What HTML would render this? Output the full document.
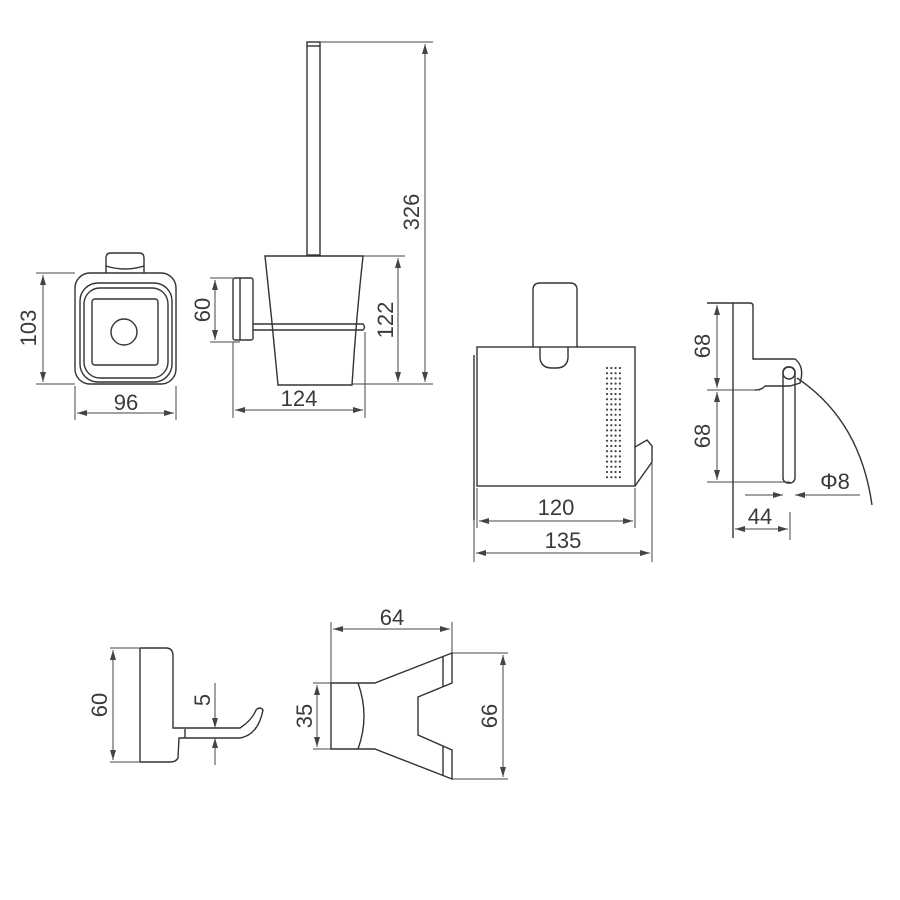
<!DOCTYPE html>
<html><head><meta charset="utf-8"><style>
html,body{margin:0;padding:0;background:#fff}
svg{display:block}
text{font-family:"Liberation Sans",sans-serif;font-size:22px;fill:#3a3a3a}
</style></head><body>
<svg width="900" height="900" viewBox="0 0 900 900" xmlns="http://www.w3.org/2000/svg">
<defs>
<marker id="a" viewBox="0 0 10 6" refX="10" refY="3" markerWidth="10" markerHeight="6" orient="auto-start-reverse" markerUnits="userSpaceOnUse"><path d="M0,0 L10,3 L0,6 z" fill="#444"/></marker>
</defs>
<g fill="none" stroke="#333" stroke-width="1.4">
<path d="M106,273 L106,258 Q106,253 111,253 L139,253 Q144,253 144,258 L144,273"/>
<path d="M106,266 Q125,272 144,266"/>
<rect x="75" y="273" width="101" height="111" rx="15"/>
<rect x="80" y="283" width="92" height="99" rx="18"/>
<rect x="84" y="288" width="84" height="90" rx="16"/>
<rect x="92" y="299" width="66" height="66" rx="3"/>
<circle cx="124" cy="332" r="13"/>
</g>
<g fill="none" stroke="#444" stroke-width="1">
<line x1="36" y1="273" x2="75" y2="273"/><line x1="36" y1="384" x2="75" y2="384"/>
<line x1="43" y1="275" x2="43" y2="382" marker-start="url(#a)" marker-end="url(#a)"/>
<line x1="75" y1="386" x2="75" y2="420"/><line x1="176" y1="386" x2="176" y2="420"/>
<line x1="77" y1="413" x2="174" y2="413" marker-start="url(#a)" marker-end="url(#a)"/>
</g>
<text x="40" y="328" text-anchor="middle" transform="rotate(-90 40 328)" dy="-4">103</text>
<text x="126" y="410" text-anchor="middle">96</text>

<g fill="none" stroke="#333" stroke-width="1.4">
<rect x="307" y="42" width="13" height="213"/>
<line x1="307" y1="46" x2="320" y2="46"/>
<path d="M265,256 L363,256 Q356,320 352,385 L278,385 Q272,320 265,256 z"/>
<path d="M253,324 L363,324 Q366,327 363,330 L253,330"/>
<rect x="233" y="278" width="20" height="62" rx="2"/>
<line x1="240" y1="278" x2="240" y2="340"/>
</g>
<g fill="none" stroke="#444" stroke-width="1">
<line x1="320" y1="42" x2="433" y2="42"/>
<line x1="425" y1="44" x2="425" y2="382" marker-start="url(#a)" marker-end="url(#a)"/>
<line x1="363" y1="256" x2="405" y2="256"/>
<line x1="352" y1="384" x2="433" y2="384"/>
<line x1="398" y1="258" x2="398" y2="382" marker-start="url(#a)" marker-end="url(#a)"/>
<line x1="210" y1="278" x2="233" y2="278"/><line x1="210" y1="342" x2="240" y2="342"/>
<line x1="215" y1="280" x2="215" y2="340" marker-start="url(#a)" marker-end="url(#a)"/>
<line x1="233" y1="342" x2="233" y2="418"/><line x1="365" y1="332" x2="365" y2="418"/>
<line x1="235" y1="410" x2="363" y2="410" marker-start="url(#a)" marker-end="url(#a)"/>
</g>
<text x="412" y="212" text-anchor="middle" transform="rotate(-90 412 212)" dy="7">326</text>
<text x="386" y="320" text-anchor="middle" transform="rotate(-90 386 320)" dy="7">122</text>
<text x="203" y="310" text-anchor="middle" transform="rotate(-90 203 310)" dy="7">60</text>
<text x="299" y="406" text-anchor="middle">124</text>

<g fill="none" stroke="#333" stroke-width="1.4">
<path d="M533,347 L533,290 Q533,283 540,283 L570,283 Q577,283 577,290 L577,347"/>
<rect x="477" y="347" width="158" height="139"/>
<path d="M540,347 L540,358 Q541,368 552,368 L556,368 Q567,368 568,358 L568,347"/>
<line x1="474" y1="355" x2="474" y2="520"/>
<path d="M635,447 L647,440 L652,446 L652,462 L635,486"/>
</g>
<g fill="#444">
<g id="dotcol">
<circle cx="607" cy="368" r="1.1"/><circle cx="607" cy="373.2" r="1.1"/><circle cx="607" cy="378.4" r="1.1"/><circle cx="607" cy="383.6" r="1.1"/><circle cx="607" cy="388.8" r="1.1"/><circle cx="607" cy="394" r="1.1"/><circle cx="607" cy="399.2" r="1.1"/><circle cx="607" cy="404.4" r="1.1"/><circle cx="607" cy="409.6" r="1.1"/><circle cx="607" cy="414.8" r="1.1"/><circle cx="607" cy="420" r="1.1"/><circle cx="607" cy="425.2" r="1.1"/><circle cx="607" cy="430.4" r="1.1"/><circle cx="607" cy="435.6" r="1.1"/><circle cx="607" cy="440.8" r="1.1"/><circle cx="607" cy="446" r="1.1"/><circle cx="607" cy="451.2" r="1.1"/><circle cx="607" cy="456.4" r="1.1"/><circle cx="607" cy="461.6" r="1.1"/><circle cx="607" cy="466.8" r="1.1"/><circle cx="607" cy="472" r="1.1"/><circle cx="607" cy="477.2" r="1.1"/>
</g>
<use href="#dotcol" x="4.3"/><use href="#dotcol" x="8.6"/><use href="#dotcol" x="12.9"/>
</g>
<g fill="none" stroke="#444" stroke-width="1">
<line x1="477" y1="488" x2="477" y2="528"/><line x1="635" y1="488" x2="635" y2="528"/>
<line x1="474" y1="520" x2="474" y2="562"/><line x1="652" y1="462" x2="652" y2="562"/>
<line x1="479" y1="521" x2="633" y2="521" marker-start="url(#a)" marker-end="url(#a)"/>
<line x1="476" y1="553" x2="650" y2="553" marker-start="url(#a)" marker-end="url(#a)"/>
</g>
<text x="556" y="515" text-anchor="middle">120</text>
<text x="563" y="548" text-anchor="middle">135</text>

<g fill="none" stroke="#333" stroke-width="1.4">
<line x1="733" y1="303" x2="733" y2="538"/>
<path d="M707,303 L750,303 Q753,303 753,306 L753,359 L795,359 Q805,367 800,383 L790,386 L765,386 Q762,390 755,390"/>
<rect x="783" y="367" width="12" height="116" rx="5"/>
<circle cx="789" cy="373" r="6"/>
<path d="M797,378 Q860,420 872,505"/>
</g>
<g fill="none" stroke="#444" stroke-width="1">
<line x1="707" y1="390" x2="760" y2="390"/>
<line x1="707" y1="482" x2="790" y2="482"/>
<line x1="717" y1="305" x2="717" y2="388" marker-start="url(#a)" marker-end="url(#a)"/>
<line x1="717" y1="392" x2="717" y2="480" marker-start="url(#a)" marker-end="url(#a)"/>
<line x1="745" y1="495" x2="783" y2="495" marker-end="url(#a)"/>
<line x1="860" y1="495" x2="795" y2="495" marker-end="url(#a)"/>
<line x1="790" y1="512" x2="790" y2="540"/>
<line x1="735" y1="529" x2="788" y2="529" marker-start="url(#a)" marker-end="url(#a)"/>
</g>
<text x="703" y="346" text-anchor="middle" transform="rotate(-90 703 346)" dy="7">68</text>
<text x="703" y="436" text-anchor="middle" transform="rotate(-90 703 436)" dy="7">68</text>
<text x="835" y="489" text-anchor="middle">Φ8</text>
<text x="760" y="524" text-anchor="middle">44</text>

<g fill="none" stroke="#333" stroke-width="1.4">
<path d="M140,648 L166,648 Q173,648 173,656 L173,728 L240,728 Q252,720 256,710 Q260,706 263,710 Q258,735 240,738 L185,738"/>
<path d="M185,738 L179,738 L178,758 Q176,762 170,762 L140,762"/>
<line x1="140" y1="648" x2="140" y2="762"/>
<line x1="185" y1="729" x2="185" y2="738"/>
</g>
<g fill="none" stroke="#444" stroke-width="1">
<line x1="110" y1="648" x2="140" y2="648"/><line x1="110" y1="762" x2="140" y2="762"/>
<line x1="113" y1="650" x2="113" y2="760" marker-start="url(#a)" marker-end="url(#a)"/>
<line x1="215" y1="683" x2="215" y2="728" marker-end="url(#a)"/>
<line x1="215" y1="765" x2="215" y2="738" marker-end="url(#a)"/>
</g>
<text x="100" y="705" text-anchor="middle" transform="rotate(-90 100 705)" dy="7">60</text>
<text x="203" y="700" text-anchor="middle" transform="rotate(-90 203 700)" dy="7">5</text>

<g fill="none" stroke="#333" stroke-width="1.4">
<path d="M331,683 L375,683 L452,653 L452,683 L418,697 L418,735 L452,750 L452,779 L375,749 L331,749 z"/>
<line x1="443" y1="656" x2="443" y2="687"/><line x1="443" y1="746" x2="443" y2="776"/>
<path d="M358,683 Q370,716 358,749"/>
</g>
<g fill="none" stroke="#444" stroke-width="1">
<line x1="331" y1="622" x2="331" y2="683"/><line x1="452" y1="622" x2="452" y2="653"/>
<line x1="333" y1="629" x2="450" y2="629" marker-start="url(#a)" marker-end="url(#a)"/>
<line x1="313" y1="683" x2="331" y2="683"/><line x1="313" y1="749" x2="331" y2="749"/>
<line x1="317" y1="685" x2="317" y2="747" marker-start="url(#a)" marker-end="url(#a)"/>
<line x1="452" y1="653" x2="508" y2="653"/><line x1="452" y1="779" x2="508" y2="779"/>
<line x1="503" y1="655" x2="503" y2="777" marker-start="url(#a)" marker-end="url(#a)"/>
</g>
<text x="392" y="625" text-anchor="middle">64</text>
<text x="305" y="716" text-anchor="middle" transform="rotate(-90 305 716)" dy="7">35</text>
<text x="490" y="716" text-anchor="middle" transform="rotate(-90 490 716)" dy="7">66</text>
</svg>
</body></html>
